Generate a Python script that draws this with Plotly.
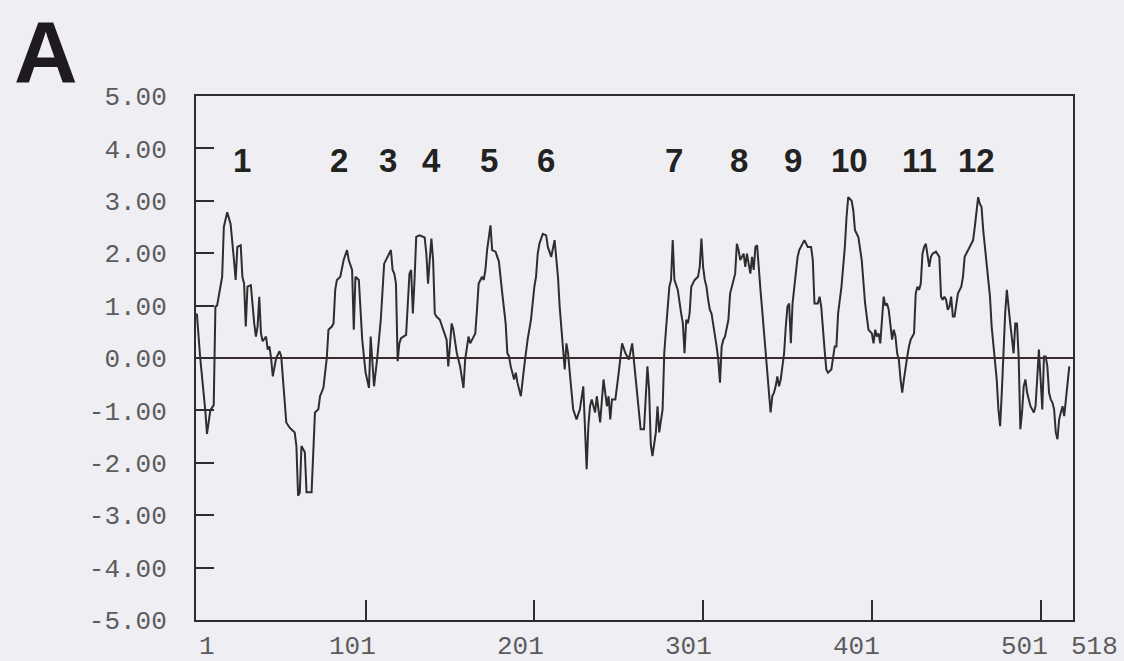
import plotly.graph_objects as go

# Hydropathy profile (window-averaged scores) along the 518-residue sequence
residue = [
    1, 3, 6, 7, 9, 11, 12, 13, 16, 17, 19, 21, 23, 24, 25, 27, 28, 29, 30, 31,
    33, 34, 35, 36, 37, 38, 39, 40, 42, 43, 44, 45, 46, 48, 50, 51, 52, 53, 54, 56,
    59, 60, 61, 62, 63, 65, 66, 69, 70, 71, 73, 74, 76, 78, 79, 81, 82, 83, 84, 86,
    88, 90, 91, 93, 94, 95, 97, 98, 99, 101, 103, 104, 105, 106, 108, 110, 112, 114, 116, 117,
    118, 119, 120, 121, 122, 125, 127, 128, 129, 130, 131, 133, 135, 136, 137, 138, 139, 140, 141, 142,
    143, 145, 147, 149, 150, 151, 152, 153, 154, 155, 157, 158, 159, 160, 161, 162, 163, 164, 166, 167,
    168, 170, 171, 172, 173, 175, 176, 178, 180, 182, 184, 185, 186, 187, 189, 190, 191, 193, 194, 195,
    197, 199, 201, 202, 203, 204, 206, 208, 209, 211, 213, 214, 215, 216, 217, 218, 219, 220, 221, 222,
    224, 226, 228, 230, 231, 232, 233, 234, 235, 237, 238, 240, 242, 244, 245, 246, 247, 249, 251, 253,
    255, 257, 259, 261, 263, 264, 266, 268, 269, 270, 271, 273, 274, 275, 277, 278, 279, 281, 282, 283,
    284, 286, 288, 289, 290, 291, 292, 293, 294, 296, 298, 299, 300, 301, 302, 303, 304, 305, 306, 308,
    309, 310, 311, 312, 313, 314, 316, 317, 319, 320, 321, 322, 323, 325, 326, 327, 329, 330, 331, 332,
    333, 334, 335, 336, 338, 339, 340, 341, 342, 343, 344, 345, 346, 347, 348, 349, 350, 351, 352, 353,
    354, 355, 357, 358, 360, 361, 363, 365, 366, 367, 369, 370, 371, 372, 373, 374, 375, 377, 379, 380,
    381, 383, 385, 386, 387, 389, 390, 391, 393, 395, 397, 399, 401, 402, 403, 404, 405, 406, 407, 408,
    409, 410, 411, 412, 413, 414, 415, 416, 417, 418, 419, 420, 421, 422, 423, 424, 425, 426, 427, 428,
    429, 430, 431, 432, 433, 434, 435, 436, 437, 439, 441, 442, 443, 444, 445, 446, 447, 448, 449, 450,
    451, 452, 454, 455, 456, 457, 459, 460, 461, 462, 463, 464, 465, 466, 467, 468, 469, 470, 471, 472,
    473, 474, 475, 476, 477, 478, 479, 480, 481, 482, 483, 485, 486, 487, 488, 489, 490, 491, 492, 493,
    494, 495, 496, 497, 498, 499, 500, 501, 502, 503, 504, 505, 506, 507, 508, 509, 510, 511, 512, 513,
    514, 515, 516, 517, 518,
]
hydropathy = [
    0.85, 0.00, -1.00, -1.45, -1.00, -0.90, 0.98, 1.00, 1.55, 2.50, 2.78, 2.56, 1.87, 1.49, 2.12, 2.15, 1.55, 1.42, 0.60, 1.36,
    1.39, 0.98, 0.66, 0.41, 0.60, 1.17, 0.47, 0.32, 0.41, 0.16, 0.22, 0.00, -0.35, 0.00, 0.13, 0.03, -0.41, -0.66, -1.23, -1.33,
    -1.42, -1.68, -2.63, -2.57, -1.68, -1.80, -2.56, -2.56, -1.80, -1.04, -0.98, -0.73, -0.57, 0.00, 0.54, 0.60, 0.66, 1.30, 1.49, 1.55,
    1.87, 2.06, 1.87, 1.68, 0.54, 1.55, 1.49, 0.85, 0.35, -0.28, -0.57, 0.41, -0.03, -0.54, 0.03, 0.73, 1.80, 1.93, 2.06, 1.68,
    1.61, 1.42, -0.06, 0.28, 0.38, 0.44, 1.61, 1.68, 0.85, 1.49, 2.31, 2.34, 2.31, 2.30, 1.99, 1.42, 1.87, 2.28, 1.87, 0.85,
    0.79, 0.73, 0.54, 0.35, -0.16, 0.22, 0.66, 0.54, 0.35, 0.10, -0.16, -0.41, -0.57, -0.03, 0.22, 0.41, 0.28, 0.35, 0.47, 0.92,
    1.42, 1.55, 1.49, 1.68, 2.06, 2.53, 2.06, 2.03, 1.84, 1.23, 0.66, 0.09, 0.03, -0.16, -0.41, -0.28, -0.47, -0.73, -0.41, -0.16,
    0.35, 0.73, 1.36, 1.55, 1.99, 2.18, 2.37, 2.34, 2.12, 1.93, 2.25, 1.87, 1.55, 0.98, 0.54, 0.09, -0.22, 0.28, 0.09, -0.28,
    -0.98, -1.17, -0.98, -0.54, -1.30, -2.12, -1.30, -0.92, -0.79, -1.04, -0.73, -1.23, -0.41, -0.92, -0.73, -1.17, -0.79, -0.79, -0.28, 0.28,
    0.09, -0.03, 0.28, -0.41, -1.04, -1.36, -1.36, -0.16, -0.60, -1.65, -1.87, -1.42, -0.92, -1.42, -0.98, 0.10, 0.54, 1.36, 1.49, 2.25,
    1.49, 1.30, 0.85, 0.66, 0.09, 0.73, 0.66, 0.85, 1.36, 1.49, 1.55, 1.74, 2.28, 1.74, 1.49, 1.36, 1.11, 0.92, 0.85, 0.47,
    0.22, -0.03, -0.47, 0.22, 0.35, 0.41, 0.73, 1.23, 1.49, 1.61, 2.18, 2.06, 1.87, 1.99, 1.74, 1.99, 1.61, 1.93, 1.68, 2.12,
    2.15, 1.80, 1.30, 0.92, 0.16, -0.16, -0.54, -1.04, -0.73, -0.66, -0.54, -0.35, -0.54, -0.41, -0.16, 0.09, 0.60, 0.98, 1.04, 0.28,
    1.04, 1.30, 1.93, 2.06, 2.18, 2.25, 2.12, 2.12, 1.87, 1.04, 1.04, 1.17, 0.98, 0.47, 0.16, -0.22, -0.28, -0.22, 0.22, 0.22,
    0.85, 1.36, 2.12, 2.69, 3.07, 3.00, 2.82, 2.44, 2.31, 1.87, 1.04, 0.54, 0.47, 0.28, 0.54, 0.41, 0.47, 0.28, 0.79, 1.17,
    1.00, 1.04, 0.92, 0.60, 0.35, 0.54, 0.41, 0.09, -0.03, -0.41, -0.66, -0.41, -0.16, 0.03, 0.22, 0.35, 0.41, 0.47, 1.23, 1.36,
    1.30, 1.42, 1.99, 2.12, 2.18, 1.93, 1.74, 1.93, 1.99, 2.03, 1.93, 1.17, 1.11, 1.17, 1.11, 0.92, 0.98, 1.17, 0.79, 0.79,
    0.98, 1.23, 1.36, 1.55, 1.93, 1.99, 2.12, 2.18, 2.25, 2.50, 2.82, 3.07, 2.94, 2.88, 2.44, 2.12, 1.93, 1.55, 1.17, 0.60,
    0.22, -0.03, -0.41, -0.98, -1.30, -0.66, 0.22, 0.85, 1.30, 0.92, 0.66, 0.09, 0.66, 0.66, 0.03, -1.36, -1.04, -0.54, -0.41, -0.66,
    -0.79, -0.92, -0.98, -1.04, -0.92, -0.28, 0.16, -0.41, -0.98, 0.03, 0.03, -0.16, -0.66, -0.79, -0.85, -0.98, -1.42, -1.55, -1.17, -1.04,
    -0.92, -1.11, -0.79, -0.47, -0.16,
]

# Hydrophobic segments numbered above the profile
segment_names = ["1", "2", "3", "4", "5", "6", "7", "8", "9", "10", "11", "12"]
segment_positions = [28, 85, 114, 140, 174, 208, 284, 322, 354, 388, 429, 463]
segment_label_level = 3.77

# Axis ticks and labels
y_ticks = [5, 4, 3, 2, 1, 0, -1, -2, -3, -4, -5]
y_tick_text = ["5.00", "4.00", "3.00", "2.00", "1.00", "0.00",
               "-1.00", "-2.00", "-3.00", "-4.00", "-5.00"]
x_ticks = [101, 201, 301, 401, 501]
x_label_text = ["1", "101", "201", "301", "401", "501"]
x_label_positions = [7, 93.5, 193, 292.5, 392, 491.5]
x_end_label = "518"
x_end_position = 518

BG = "#efeff3"
INK = "#2e2e2e"
LABEL_GREY = "#5c5c5c"
MONO = "Liberation Mono, Courier New, monospace"
SANS = "Liberation Sans, Arial, Helvetica, sans-serif"

fig = go.Figure()
fig.add_trace(go.Scatter(
    x=residue, y=hydropathy, mode="lines",
    line=dict(color=INK, width=2),
    showlegend=False, hoverinfo="skip",
))

annotations = []
for name, pos in zip(segment_names, segment_positions):
    annotations.append(dict(
        x=pos, y=segment_label_level, xref="x", yref="y", text=f"<b>{name}</b>",
        showarrow=False, font=dict(family=SANS, size=33, color="#222222"),
        xanchor="center", yanchor="middle",
    ))
# residue-number labels sit a little left of their tick marks
for txt, pos in zip(x_label_text, x_label_positions):
    annotations.append(dict(
        x=pos, y=0, xref="x", yref="paper", yshift=-27, text=txt, showarrow=False,
        font=dict(family=MONO, size=26, color=LABEL_GREY),
        xanchor="center", yanchor="middle",
    ))
annotations.append(dict(
    x=x_end_position, y=0, xref="x", yref="paper", yshift=-27, text=x_end_label,
    showarrow=False, font=dict(family=MONO, size=26, color=LABEL_GREY),
    xanchor="left", yanchor="middle",
))
annotations.append(dict(
    x=-0.171, y=1.084, xref="paper", yref="paper", text="<b>A</b>",
    showarrow=False, font=dict(family=SANS, size=88, color="#1e1a1e"),
    xanchor="center", yanchor="middle",
))

fig.update_layout(
    width=1124, height=661,
    margin=dict(l=196, r=51, t=96, b=41),
    paper_bgcolor=BG, plot_bgcolor=BG,
    annotations=annotations,
    xaxis=dict(
        range=[0.5, 520.2], showgrid=False, zeroline=False,
        showline=True, mirror=True, linecolor=INK, linewidth=2,
        tickmode="array", tickvals=x_ticks, ticks="inside", ticklen=20,
        tickwidth=2, tickcolor=INK, showticklabels=False,
    ),
    yaxis=dict(
        range=[-5, 5], showgrid=False,
        zeroline=True, zerolinecolor="#3a2c2e", zerolinewidth=2,
        showline=True, mirror=True, linecolor=INK, linewidth=2,
        tickmode="array", tickvals=y_ticks, ticktext=y_tick_text,
        ticks="inside", ticklen=18, tickwidth=2, tickcolor=INK,
        tickfont=dict(family=MONO, size=26, color=LABEL_GREY),
        ticklabelstandoff=22,
    ),
)

fig.write_html("out.html")
